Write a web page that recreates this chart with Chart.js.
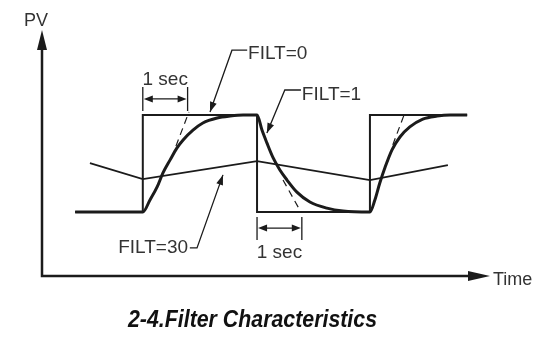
<!DOCTYPE html>
<html>
<head>
<meta charset="utf-8">
<script src="https://cdn.jsdelivr.net/npm/chart.js@4/dist/chart.umd.min.js"></script>
<style>
  html, body { margin: 0; padding: 0; background: #fff; }
  canvas { display: block; }
</style>
</head>
<body>
<canvas id="chart" width="550" height="341"></canvas>
<script>
// ── Data: time in sec, PV in arbitrary units (axis = 0, arrow tip = 100) ──
const filt0Time = [0.74, 2.25, 2.25, 4.80, 4.80, 7.32, 7.32, 9.49];
const filt0PV   = [26.0, 26.0, 65.4, 65.4, 26.0, 26.0, 65.4, 65.4];

const filt1Time = [0.74, 2.25, 2.41, 2.57, 2.70, 2.86, 3.01, 3.15, 3.37, 3.59, 3.91, 4.20, 4.49, 4.80,
                   4.91, 5.02, 5.16, 5.31, 5.47, 5.69, 5.98, 6.36, 6.72, 7.32,
                   7.43, 7.54, 7.66, 7.81, 7.99, 8.21, 8.50, 8.82, 9.11, 9.49];
const filt1PV   = [26.0, 26.0, 30.9, 36.2, 41.9, 47.2, 52.0, 55.3, 59.3, 62.2, 64.2, 65.0, 65.4, 65.4,
                   59.3, 54.1, 48.0, 43.1, 39.0, 34.1, 30.1, 27.6, 26.4, 26.0,
                   30.9, 37.8, 44.3, 51.2, 56.5, 60.6, 63.8, 65.0, 65.4, 65.4];

const filt30Time = [1.07, 2.25, 4.80, 7.32, 9.06];
const filt30PV   = [45.9, 39.4, 46.7, 39.0, 45.1];

// dashed tangents (time constant guides)
const tangentTime = [[2.99, 3.28], [5.38, 5.78], [7.83, 8.08]];
const tangentPV   = [[52.8, 66.7], [39.0, 26.0], [53.3, 65.4]];

const axisLabels = { y: 'PV', x: 'Time' };
const chartTitle = '2-4.Filter Characteristics';

// ── Annotation layout (in data units) ───────────────────
const secMarks = [
    { from: 2.25, to: 3.25, tickTop: 76.8, tickBottom: 67.1, arrowAt: 72.0, textAt: 77.6 },
    { from: 4.80, to: 5.80, tickTop: 24.0, tickBottom: 14.6, arrowAt: 19.5, textAt: 7.3 },
];
const callouts = [
    { text: 'FILT=0',  at: [4.60, 88.2], align: 'left',  path: [[4.58, 91.8], [4.24, 91.8], [3.75, 66.7]] },
    { text: 'FILT=1',  at: [5.80, 71.7], align: 'left',  path: [[5.78, 75.6], [5.42, 75.6], [5.02, 58.1]] },
    { text: 'FILT=30', at: [3.26, 9.3],  align: 'right', path: [[3.30, 11.4], [3.46, 11.4], [4.04, 41.1]] },
];

const INK = '#1b1b1b';
const TXT = '#333';
const FONT = '"Liberation Sans", Arial, Helvetica, sans-serif';

const toPoints = (xs, ys) => xs.map((x, i) => ({ x, y: ys[i] }));

function arrowHead(ctx, fx, fy, tx, ty, len, half) {
    const a = Math.atan2(ty - fy, tx - fx);
    ctx.beginPath();
    ctx.moveTo(tx, ty);
    ctx.lineTo(tx - len * Math.cos(a) + half * Math.sin(a), ty - len * Math.sin(a) - half * Math.cos(a));
    ctx.lineTo(tx - len * Math.cos(a) - half * Math.sin(a), ty - len * Math.sin(a) + half * Math.cos(a));
    ctx.closePath();
    ctx.fill();
}

const diagramPlugin = {
    id: 'diagram',
    beforeDatasetsDraw(chart) {
        const { ctx, chartArea: a } = chart;
        ctx.save();
        ctx.strokeStyle = INK;
        ctx.fillStyle = INK;
        ctx.lineWidth = 2.5;
        ctx.beginPath();
        ctx.moveTo(a.left, a.top + 12);
        ctx.lineTo(a.left, a.bottom);
        ctx.lineTo(a.right - 12, a.bottom);
        ctx.stroke();
        arrowHead(ctx, a.left, a.bottom, a.left, a.top, 20, 5);
        arrowHead(ctx, a.left, a.bottom, a.right, a.bottom, 22, 5);

        ctx.fillStyle = TXT;
        ctx.font = `18px ${FONT}`;
        ctx.textBaseline = 'alphabetic';
        ctx.textAlign = 'center';
        ctx.fillText(axisLabels.y, a.left - 6, a.top - 4);
        ctx.textAlign = 'left';
        ctx.fillText(axisLabels.x, a.right + 3, a.bottom + 9);
        ctx.restore();
    },
    afterDatasetsDraw(chart) {
        const { ctx, chartArea: a, scales: { x, y } } = chart;
        const px = v => x.getPixelForValue(v);
        const py = v => y.getPixelForValue(v);
        ctx.save();
        ctx.strokeStyle = INK;
        ctx.fillStyle = INK;
        ctx.lineWidth = 1.3;

        // 1 sec brackets
        secMarks.forEach(m => {
            const x0 = px(m.from), x1 = px(m.to), ya = py(m.arrowAt);
            ctx.beginPath();
            ctx.moveTo(x0, py(m.tickTop)); ctx.lineTo(x0, py(m.tickBottom));
            ctx.moveTo(x1, py(m.tickTop)); ctx.lineTo(x1, py(m.tickBottom));
            ctx.moveTo(x0 + 4, ya); ctx.lineTo(x1 - 4, ya);
            ctx.stroke();
            arrowHead(ctx, x1, ya, x0 + 1, ya, 9, 3.5);
            arrowHead(ctx, x0, ya, x1 - 1, ya, 9, 3.5);
            ctx.fillStyle = TXT;
            ctx.font = `19px ${FONT}`;
            ctx.textAlign = 'center';
            ctx.fillText('1 sec', (x0 + x1) / 2, py(m.textAt));
            ctx.fillStyle = INK;
        });

        // callouts
        callouts.forEach(c => {
            const pts = c.path.map(p => [px(p[0]), py(p[1])]);
            ctx.beginPath();
            ctx.moveTo(pts[0][0], pts[0][1]);
            pts.slice(1).forEach(p => ctx.lineTo(p[0], p[1]));
            ctx.stroke();
            const n = pts.length;
            arrowHead(ctx, pts[n - 2][0], pts[n - 2][1], pts[n - 1][0], pts[n - 1][1], 10, 3.5);
            ctx.fillStyle = TXT;
            ctx.font = `19px ${FONT}`;
            ctx.textAlign = c.align;
            ctx.fillText(c.text, px(c.at[0]), py(c.at[1]));
            ctx.fillStyle = INK;
        });

        // title, slightly condensed like the original
        ctx.fillStyle = '#111';
        ctx.font = `italic bold 24px ${FONT}`;
        ctx.textAlign = 'center';
        const w = ctx.measureText(chartTitle).width;
        ctx.translate(252.5, a.bottom + 51);
        ctx.scale(249 / w, 1);
        ctx.fillText(chartTitle, 0, 0);
        ctx.restore();
    }
};

const lineBase = { pointRadius: 0, fill: false, borderColor: INK, borderCapStyle: 'butt' };

const datasets = [
    { ...lineBase, label: 'FILT=0', data: toPoints(filt0Time, filt0PV), borderWidth: 2, tension: 0 },
    { ...lineBase, label: 'FILT=30', data: toPoints(filt30Time, filt30PV), borderWidth: 1.7, tension: 0 },
    { ...lineBase, label: 'FILT=1', data: toPoints(filt1Time, filt1PV), borderWidth: 3,
      cubicInterpolationMode: 'monotone' },
    ...tangentTime.map((ts, i) => ({
        ...lineBase, label: 'tangent ' + (i + 1), data: toPoints(ts, tangentPV[i]),
        borderWidth: 1.2, borderDash: [7, 5], tension: 0
    })),
];

new Chart(document.getElementById('chart'), {
    type: 'line',
    data: { datasets },
    options: {
        responsive: false,
        animation: false,
        layout: { padding: { left: 42, right: 60, top: 30, bottom: 65 } },
        plugins: { legend: { display: false }, tooltip: { enabled: false }, title: { display: false } },
        scales: {
            x: { type: 'linear', min: 0, max: 10, display: false },
            y: { type: 'linear', min: 0, max: 100, display: false },
        },
    },
    plugins: [diagramPlugin],
});
</script>
</body>
</html>
